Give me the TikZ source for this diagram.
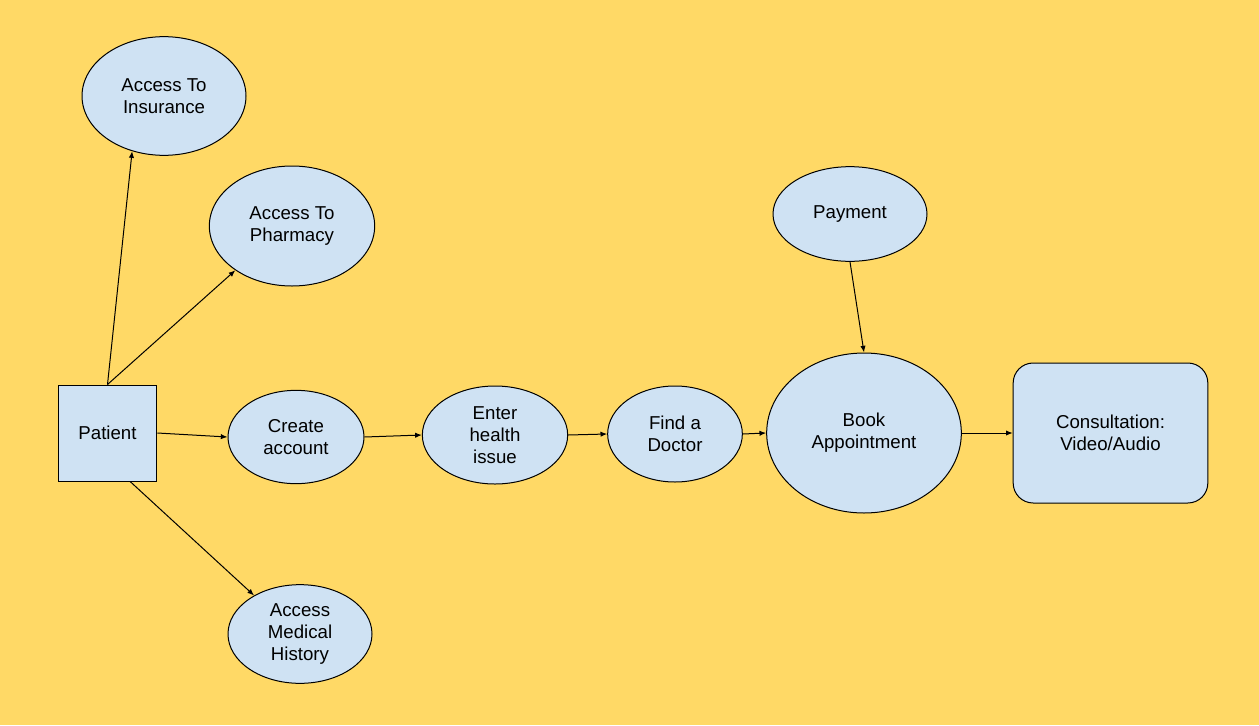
\documentclass[tikz,border=0pt]{standalone}
\usepackage{fontspec}
\setmainfont{Liberation Sans}
\usetikzlibrary{shapes,arrows.meta,positioning}
\definecolor{bgyellow}{HTML}{FFD966}
\definecolor{boxblue}{HTML}{CFE2F3}
\tikzset{
    bubble/.style={ellipse, draw=black, fill=boxblue, line width=0.75pt,
        inner sep=0pt, align=center, font=\fontsize{14}{16.5}\selectfont},
    squarebox/.style={rectangle, draw=black, fill=boxblue, line width=0.75pt,
        inner sep=0pt, align=center, font=\fontsize{14}{16.5}\selectfont},
    flow/.style={draw=black, line width=0.75pt, -{Latex[length=5pt,width=4pt]}},
}
\begin{document}
\begin{tikzpicture}[x=0.75pt, y=-0.75pt]
	\fill[bgyellow] (0,0) rectangle (1259,725);
	\useasboundingbox (0,0) rectangle (1259,725);
	% left branch
	\node[squarebox, minimum width=74pt, minimum height=72pt] (patient) at (107.5,433) {Patient};
	\node[bubble, minimum width=123pt, minimum height=89pt] (insurance) at (164,96) {Access To\\Insurance};
	\node[bubble, minimum width=124pt, minimum height=90pt] (pharmacy) at (292,226) {Access To\\Pharmacy};
	\node[bubble, minimum width=108pt, minimum height=74pt] (history) at (300,634) {Access\\Medical\\History};
	% main flow
	\node[bubble, minimum width=102pt, minimum height=70pt] (account) at (296,437) {Create\\account};
	\node[bubble, minimum width=109pt, minimum height=73.5pt] (issue) at (495,435) {Enter\\health\\issue};
	\node[bubble, minimum width=101pt, minimum height=72pt] (doctor) at (675,434) {Find a\\Doctor};
	\node[bubble, minimum width=146pt, minimum height=120pt] (book) at (864,433) {Book\\Appointment};
	\node[bubble, minimum width=115.5pt, minimum height=71pt] (payment) at (850,214) {Payment};
	\node[squarebox, rounded corners=15pt, minimum width=146pt, minimum height=105pt] (consult) at (1110.5,433) {Consultation:\\Video/Audio};
	% arrows
	\draw[flow] (patient.north) -- (insurance.-120);
	\draw[flow] (patient.north) -- (pharmacy.-142);
	\draw[flow] (patient.-65) -- (history.140);
	\draw[flow] (patient.east) -- (account.west);
	\draw[flow] (account.east) -- (issue.west);
	\draw[flow] (issue.east) -- (doctor.west);
	\draw[flow] (doctor.east) -- (book.west);
	\draw[flow] (payment.south) -- (book.north);
	\draw[flow] (book.east) -- (consult.west);
\end{tikzpicture}
\end{document}
